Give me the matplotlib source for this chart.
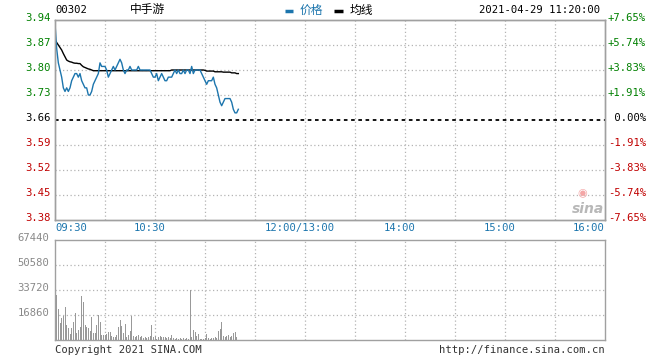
import matplotlib
matplotlib.use('Agg')
import matplotlib.pyplot as plt
import matplotlib.transforms as mtransforms
from matplotlib.lines import Line2D

plt.rcParams['font.family'] = ['DejaVu Sans Mono', 'Noto Sans CJK SC']

CODE = '00302'
NAME = '中手游'
STAMP = '2021-04-29 11:20:00'
PREV_CLOSE = 3.66

# minutes since 09:30 (lunch break removed), one value per minute
price = [
  3.93, 3.86, 3.82, 3.80, 3.78, 3.75, 3.74, 3.75, 3.74, 3.75,
  3.77, 3.78, 3.79, 3.79, 3.78, 3.79, 3.77, 3.76, 3.75, 3.75,
  3.73, 3.73, 3.74, 3.76, 3.77, 3.78, 3.79, 3.82, 3.81, 3.81,
  3.81, 3.80, 3.78, 3.79, 3.80, 3.81, 3.80, 3.81, 3.82, 3.83,
  3.82, 3.80, 3.79, 3.80, 3.80, 3.81, 3.80, 3.80, 3.80, 3.80,
  3.81, 3.80, 3.80, 3.80, 3.80, 3.80, 3.80, 3.80, 3.79, 3.78,
  3.78, 3.79, 3.77, 3.78, 3.79, 3.78, 3.77, 3.77, 3.78, 3.78,
  3.78, 3.79, 3.80, 3.79, 3.80, 3.79, 3.79, 3.80, 3.79, 3.80,
  3.80, 3.79, 3.81, 3.79, 3.80, 3.80, 3.80, 3.80, 3.79, 3.78,
  3.77, 3.76, 3.77, 3.77, 3.77, 3.78, 3.76, 3.75, 3.73, 3.71,
  3.70, 3.71, 3.72, 3.72, 3.72, 3.72, 3.71, 3.69, 3.68, 3.68,
  3.69,
]

avg_price = [
  3.884, 3.877, 3.870, 3.863, 3.856, 3.846, 3.837, 3.828, 3.825, 3.823,
  3.822, 3.820, 3.819, 3.819, 3.818, 3.818, 3.813, 3.809, 3.807, 3.805,
  3.803, 3.802, 3.800, 3.798, 3.798, 3.798, 3.798, 3.798, 3.798, 3.798,
  3.798, 3.798, 3.798, 3.798, 3.798, 3.798, 3.798, 3.798, 3.798, 3.798,
  3.798, 3.798, 3.798, 3.798, 3.798, 3.798, 3.798, 3.798, 3.798, 3.798,
  3.798, 3.798, 3.798, 3.798, 3.798, 3.798, 3.798, 3.798, 3.798, 3.798,
  3.798, 3.798, 3.798, 3.798, 3.798, 3.798, 3.798, 3.798, 3.798, 3.798,
  3.800, 3.800, 3.800, 3.800, 3.800, 3.800, 3.800, 3.800, 3.800, 3.800,
  3.800, 3.800, 3.800, 3.800, 3.800, 3.800, 3.800, 3.800, 3.800, 3.800,
  3.799, 3.797, 3.797, 3.797, 3.797, 3.797, 3.795, 3.795, 3.795, 3.795,
  3.795, 3.794, 3.794, 3.794, 3.794, 3.794, 3.792, 3.792, 3.792, 3.790,
  3.790,
]

# volume bars start at minute 1
volume = [
  30350, 20900, 11700, 15000, 16200, 22000, 10100, 8300, 4000, 8300,
  12400, 18400, 4900, 6700, 9000, 29700, 25600, 10100, 9000, 7900,
  6300, 15700, 4500, 4900, 10100, 16600, 12400, 3400, 3400, 3100,
  4000, 5400, 5400, 2700, 1800, 2200, 3400, 9000, 13500, 9400,
  4500, 10800, 2200, 3100, 6300, 16200, 2700, 2200, 2700, 3400,
  1800, 2700, 1100, 1800, 1300, 1800, 2700, 10100, 2200, 2700,
  900, 1800, 2700, 2200, 2200, 1800, 1300, 2200, 1300, 3400,
  1300, 900, 1300, 900, 1100, 900, 1300, 900, 1300, 900,
  33700, 2200, 6700, 5600, 2700, 4000, 900, 900, 700, 1100,
  4000, 1100, 900, 1100, 1300, 1800, 1100, 6300, 7600, 12100,
  2700, 1800, 2700, 3400, 1800, 2700, 4500, 5400, 2200,
]

time_ticks = [0, 60, 150, 210, 270, 330]
time_labels = ['09:30', '10:30', '12:00/13:00', '14:00', '15:00', '16:00']
vol_ticks = [16860, 33720, 50580, 67440]

GREEN = '#008000'
RED = '#c00000'
BLUE = '#1c75ad'
GRID = '#b4b4b4'
BORDER = '#a0a0a0'

W, H = 660, 360
fig = plt.figure(figsize=(W / 100, H / 100), dpi=100)

def box(x0, y0, x1, y1):
  return [x0 / W, 1 - y1 / H, (x1 - x0) / W, (y1 - y0) / H]

def shift(label, dx, dy):
  off = mtransforms.ScaledTranslation(dx / 100, dy / 100, fig.dpi_scale_trans)
  label.set_transform(label.get_transform() + off)

ax = fig.add_axes(box(55, 20, 605, 220))
ax2 = fig.add_axes(box(55, 240, 605, 340))

step = (PREV_CLOSE * 0.0765) / 4
levels = [round(PREV_CLOSE + step * k, 2) for k in range(-4, 5)]

minutes = list(range(len(price)))
ax.plot(minutes, avg_price, color='black', lw=1.0, zorder=3)
ax.plot(minutes, price, color=BLUE, lw=1.0, zorder=4)
ax.axhline(PREV_CLOSE, color='black', lw=1.3, ls=(0, (2, 2)), zorder=2)

ax.set_xlim(0, 330)
ax.set_ylim(PREV_CLOSE * (1 - 0.0765), PREV_CLOSE * (1 + 0.0765))
for m in range(30, 330, 30):
  ax.axvline(m, color=GRID, lw=0.9, ls=(0, (1, 2)), zorder=1)
  ax2.axvline(m, color=GRID, lw=0.9, ls=(0, (1, 2)), zorder=1)
for lv in levels[1:-1]:
  if abs(lv - PREV_CLOSE) > 1e-6:
    ax.axhline(lv, color=GRID, lw=0.9, ls=(0, (1, 2)), zorder=1)

ax.set_yticks(levels)
ax.set_yticklabels(['%.2f' % v for v in levels], fontsize=7.6)
ax.tick_params(axis='y', length=0, pad=3)
for lab, v in zip(ax.get_yticklabels(), levels):
  lab.set_color(GREEN if v > PREV_CLOSE + 1e-6 else RED if v < PREV_CLOSE - 1e-6 else 'black')
  shift(lab, 0, 3)

axr = ax.twinx()
axr.set_ylim(ax.get_ylim())
axr.set_yticks(levels)
pct = []
for v in levels:
  p = (v / PREV_CLOSE - 1) * 100
  if abs(p) < 1e-6:
    pct.append(' 0.00%')
  else:
    pct.append('%+.2f%%' % p)
axr.set_yticklabels(pct, fontsize=7.6)
axr.tick_params(axis='y', length=0, pad=2)
for lab, v in zip(axr.get_yticklabels(), levels):
  lab.set_color(GREEN if v > PREV_CLOSE + 1e-6 else RED if v < PREV_CLOSE - 1e-6 else 'black')
  shift(lab, 0, 3)

ax.set_xticks(time_ticks)
ax.set_xticklabels(time_labels, fontsize=7.6, color=BLUE)
ax.tick_params(axis='x', length=0, pad=2)
for i, lab in enumerate(ax.get_xticklabels()):
  if i == 0:
    lab.set_ha('left')
  elif i == len(time_ticks) - 1:
    lab.set_ha('right')
  else:
    shift(lab, -5, 0)

for a in (ax, axr, ax2):
  for s in a.spines.values():
    s.set_color(BORDER)
    s.set_linewidth(1.0)

# volume panel
ax2.bar(range(1, len(volume) + 1), volume, width=0.6, color='#999999', zorder=3)
ax2.set_xlim(0, 330)
ax2.set_ylim(0, 67440)
for v in vol_ticks[:-1]:
  ax2.axhline(v, color=GRID, lw=0.9, ls=(0, (1, 2)), zorder=1)
ax2.set_xticks([])
ax2.set_yticks(vol_ticks)
ax2.set_yticklabels([str(v) for v in vol_ticks], fontsize=7.6, color='#888888')
ax2.tick_params(axis='y', length=0, pad=4)
for lab in ax2.get_yticklabels():
  shift(lab, 0, 3)

# header
def px_text(x, y, s, **kw):
  fig.text(x / W, 1 - y / H, s, va='center', **kw)

def px_dash(x0, x1, y, color):
  fig.add_artist(Line2D([x0 / W, x1 / W], [1 - y / H, 1 - y / H],
                        transform=fig.transFigure, color=color, lw=2.5,
                        solid_capstyle='butt'))

px_text(55, 10, CODE, fontsize=7.6, color='black')
px_text(130, 10, NAME, fontsize=8.5, color='black')
px_dash(285, 293, 11, BLUE)
px_text(300, 10, '价格', fontsize=8.5, color=BLUE)
px_dash(334, 343, 11, 'black')
px_text(350, 10, '均线', fontsize=8.5, color='black')
px_text(600, 10, STAMP, fontsize=7.6, color='black', ha='right')

# footer
px_text(55, 350, 'Copyright 2021 SINA.COM', fontsize=7.6, color='#333333')
px_text(605, 350, 'http://finance.sina.com.cn', fontsize=7.6, color='#333333', ha='right')

# watermark
px_text(582, 193, '\u25c9', fontsize=8, color='#f4a6a6', ha='center', family='DejaVu Sans')
px_text(588, 209, 'sina', fontsize=10, color='#b8b8b8', ha='center',
        family='DejaVu Sans', style='italic', weight='bold')

fig.savefig('out.png', dpi=100)
